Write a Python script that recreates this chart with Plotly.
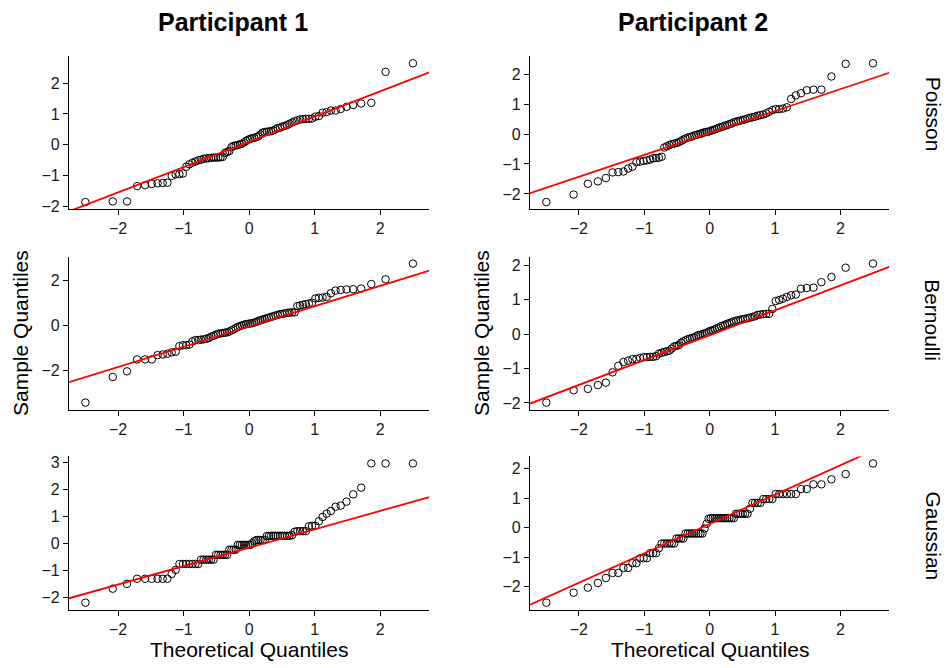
import plotly.graph_objects as go
from statistics import NormalDist

# ---------------- data ----------------
participants = ["Participant 1", "Participant 2"]
distributions = ["Poisson", "Bernoulli", "Gaussian"]

# sorted sample values (n = 80 per panel)
p1_poisson = [-1.87, -1.85, -1.85, -1.35, -1.32, -1.28, -1.26, -1.25, -1.24, -1.02,
              -0.97, -0.96, -0.94, -0.72, -0.64, -0.59, -0.55, -0.51, -0.49, -0.46,
              -0.45, -0.44, -0.43, -0.42, -0.42, -0.42, -0.41, -0.40, -0.27, -0.24,
              -0.21, -0.08, -0.04, -0.03, -0.01, 0.01, 0.03, 0.07, 0.12, 0.16,
              0.19, 0.21, 0.22, 0.25, 0.27, 0.33, 0.39, 0.41, 0.42, 0.43,
              0.44, 0.46, 0.50, 0.54, 0.55, 0.59, 0.61, 0.64, 0.68, 0.72,
              0.76, 0.79, 0.82, 0.83, 0.84, 0.84, 0.85, 0.91, 0.93, 1.04,
              1.06, 1.11, 1.11, 1.16, 1.23, 1.29, 1.34, 1.36, 2.37, 2.65]

p2_poisson = [-2.27, -2.02, -1.66, -1.58, -1.47, -1.28, -1.27, -1.25, -1.15, -1.09,
              -0.94, -0.92, -0.90, -0.88, -0.85, -0.81, -0.80, -0.79, -0.76, -0.45,
              -0.41, -0.37, -0.34, -0.32, -0.30, -0.27, -0.23, -0.19, -0.15, -0.12,
              -0.10, -0.08, -0.05, -0.03, -0.01, 0.01, 0.03, 0.06, 0.07, 0.08,
              0.11, 0.13, 0.15, 0.18, 0.21, 0.23, 0.25, 0.28, 0.30, 0.33,
              0.35, 0.39, 0.41, 0.43, 0.45, 0.47, 0.49, 0.52, 0.54, 0.56,
              0.58, 0.61, 0.63, 0.65, 0.69, 0.74, 0.80, 0.83, 0.83, 0.85,
              0.89, 1.17, 1.29, 1.36, 1.46, 1.48, 1.48, 1.92, 2.34, 2.36]

p1_bernoulli = [-3.43, -2.29, -2.04, -1.51, -1.51, -1.51, -1.32, -1.29, -1.26, -1.20,
                -1.17, -0.92, -0.88, -0.88, -0.85, -0.71, -0.65, -0.65, -0.63, -0.62,
                -0.59, -0.56, -0.50, -0.46, -0.41, -0.37, -0.35, -0.34, -0.32, -0.31,
                -0.27, -0.22, -0.18, -0.12, -0.07, -0.03, 0.00, 0.03, 0.06, 0.07,
                0.09, 0.10, 0.13, 0.16, 0.20, 0.23, 0.26, 0.29, 0.32, 0.35,
                0.38, 0.41, 0.44, 0.47, 0.50, 0.51, 0.54, 0.56, 0.57, 0.58,
                0.58, 0.86, 0.89, 0.92, 0.95, 0.97, 1.01, 1.20, 1.23, 1.24,
                1.27, 1.43, 1.55, 1.58, 1.60, 1.61, 1.64, 1.84, 2.05, 2.75]

p2_bernoulli = [-1.99, -1.63, -1.59, -1.48, -1.41, -1.11, -0.92, -0.81, -0.77, -0.73,
                -0.72, -0.69, -0.67, -0.67, -0.66, -0.66, -0.64, -0.57, -0.54, -0.52,
                -0.50, -0.48, -0.42, -0.36, -0.34, -0.32, -0.25, -0.21, -0.18, -0.15,
                -0.13, -0.11, -0.10, -0.06, -0.03, -0.02, 0.00, 0.02, 0.04, 0.07,
                0.10, 0.11, 0.14, 0.17, 0.19, 0.23, 0.25, 0.27, 0.30, 0.32,
                0.34, 0.37, 0.39, 0.40, 0.42, 0.43, 0.45, 0.46, 0.48, 0.50,
                0.52, 0.56, 0.57, 0.58, 0.59, 0.59, 0.73, 0.96, 0.99, 1.03,
                1.08, 1.13, 1.15, 1.32, 1.34, 1.35, 1.51, 1.66, 1.93, 2.05]

p1_gaussian = [-2.21, -1.69, -1.51, -1.32, -1.32, -1.32, -1.32, -1.32, -1.32, -1.14,
               -0.99, -0.77, -0.77, -0.77, -0.77, -0.77, -0.77, -0.77, -0.61, -0.61,
               -0.61, -0.61, -0.61, -0.61, -0.43, -0.43, -0.43, -0.43, -0.43, -0.43,
               -0.24, -0.24, -0.24, -0.24, -0.06, -0.06, -0.06, -0.06, -0.06, -0.06,
               -0.06, 0.00, 0.08, 0.12, 0.12, 0.12, 0.12, 0.12, 0.27, 0.27,
               0.28, 0.28, 0.28, 0.28, 0.28, 0.28, 0.28, 0.28, 0.28, 0.30,
               0.43, 0.45, 0.45, 0.45, 0.45, 0.63, 0.65, 0.65, 0.82, 0.98,
               1.10, 1.20, 1.36, 1.40, 1.55, 1.82, 2.07, 2.97, 2.97, 2.97]

p2_gaussian = [-2.55, -2.21, -2.04, -1.88, -1.71, -1.54, -1.54, -1.37, -1.37, -1.21,
               -1.21, -1.04, -1.04, -1.04, -0.87, -0.87, -0.87, -0.70, -0.54, -0.54,
               -0.54, -0.54, -0.54, -0.54, -0.37, -0.37, -0.37, -0.37, -0.20, -0.20,
               -0.20, -0.20, -0.20, -0.20, -0.20, -0.20, -0.20, -0.03, 0.13, 0.30,
               0.32, 0.32, 0.32, 0.32, 0.32, 0.32, 0.32, 0.32, 0.32, 0.32,
               0.32, 0.32, 0.47, 0.47, 0.47, 0.47, 0.47, 0.47, 0.64, 0.84,
               0.84, 0.84, 0.84, 0.97, 0.97, 0.97, 0.97, 1.14, 1.14, 1.14,
               1.14, 1.14, 1.14, 1.31, 1.31, 1.47, 1.47, 1.64, 1.82, 2.18]

# reference (qq) lines, row-major: [P1, P2] for each distribution
qq_intercepts = [0.09, 0.035, -0.047, -0.032, -0.165, 0.123]
qq_slopes = [0.823, 0.731, 0.902, 0.723, 0.685, 0.998]

x_tick_values = [-2, -1, 0, 1, 2]
y_tick_values = [
    [-2, -1, 0, 1, 2], [-2, -1, 0, 1, 2],
    [-2, 0, 2], [-2, -1, 0, 1, 2],
    [-2, -1, 0, 1, 2, 3], [-2, -1, 0, 1, 2],
]

panels = [p1_poisson, p2_poisson, p1_bernoulli, p2_bernoulli, p1_gaussian, p2_gaussian]

# ---------------- layout geometry ----------------
W, H = 951, 668
col_px = [(69, 429.3), (530, 889.3)]
row_px = [(55, 209.5), (257.7, 412.5), (460, 615)]

FONT = "Liberation Sans, Arial, Helvetica, sans-serif"
TXT = "#1a1a1a"


def theo_quantiles(n):
    nd = NormalDist()
    a = 3 / 8 if n <= 10 else 0.5
    return [nd.inv_cdf((i + 1 - a) / (n + 1 - 2 * a)) for i in range(n)]


def expand(lo, hi, f=0.05):
    d = (hi - lo) * f
    return [lo - d, hi + d]


fig = go.Figure()
layout_axes = {}

for k, sample in enumerate(panels):
    r, c = divmod(k, 2)
    idx = k + 1
    xs = theo_quantiles(len(sample))
    ys = sorted(sample)
    xr = expand(min(xs), max(xs))
    yr = expand(min(ys), max(ys))
    xname = "x" if idx == 1 else f"x{idx}"
    yname = "y" if idx == 1 else f"y{idx}"

    fig.add_trace(go.Scatter(
        x=xs, y=ys, mode="markers", xaxis=xname, yaxis=yname,
        marker=dict(symbol="circle-open", size=7.5, color="black",
                    line=dict(width=1, color="black")),
        showlegend=False, hoverinfo="x+y",
    ))
    b0, b1 = qq_intercepts[k], qq_slopes[k]
    fig.add_trace(go.Scatter(
        x=[xr[0], xr[1]], y=[b0 + b1 * xr[0], b0 + b1 * xr[1]],
        mode="lines", xaxis=xname, yaxis=yname,
        line=dict(color="#ff0000", width=1.8),
        showlegend=False, hoverinfo="skip",
    ))

    x0, x1 = col_px[c]
    ytop, ybot = row_px[r]
    common = dict(
        showgrid=False, zeroline=False, showline=True, linecolor="black",
        linewidth=1.1, ticks="outside", ticklen=5, tickwidth=1,
        tickcolor="black", tickfont=dict(family=FONT, size=16, color=TXT),
        mirror=False, fixedrange=True,
    )
    layout_axes[f"xaxis{idx}" if idx > 1 else "xaxis"] = dict(
        domain=[x0 / W, x1 / W], anchor=yname, range=xr,
        tickmode="array", tickvals=x_tick_values, **common)
    layout_axes[f"yaxis{idx}" if idx > 1 else "yaxis"] = dict(
        domain=[1 - ybot / H, 1 - ytop / H], anchor=xname, range=yr,
        tickmode="array", tickvals=y_tick_values[k], **common)

annotations = []


def ann(text, xpx, ypx, size, angle=0, bold=False):
    annotations.append(dict(
        text=f"<b>{text}</b>" if bold else text,
        x=xpx / W, y=1 - ypx / H, xref="paper", yref="paper",
        xanchor="center", yanchor="middle", showarrow=False,
        textangle=angle, font=dict(family=FONT, size=size, color="black"),
    ))


# column titles
ann(participants[0], 232.7, 20, 25, bold=True)
ann(participants[1], 693, 20, 25, bold=True)
# axis titles
for cx, ylab_x in [(249, 21), (709.5, 482)]:
    ann("Theoretical Quantiles", cx, 655, 21)
    ann("Sample Quantiles", ylab_x, 335, 21, angle=-90)
# row strips
for name, ypx in zip(distributions, [113, 322, 540]):
    ann(name, 933, ypx, 21, angle=90)

fig.update_layout(
    width=W, height=H, autosize=False,
    margin=dict(l=0, r=0, t=0, b=0),
    paper_bgcolor="white", plot_bgcolor="white",
    annotations=annotations, showlegend=False,
    **layout_axes,
)

fig.write_html(
    "out.html",
    config={"displayModeBar": False},
    post_script="document.body.style.margin='0';document.body.style.overflow='hidden';",
)
